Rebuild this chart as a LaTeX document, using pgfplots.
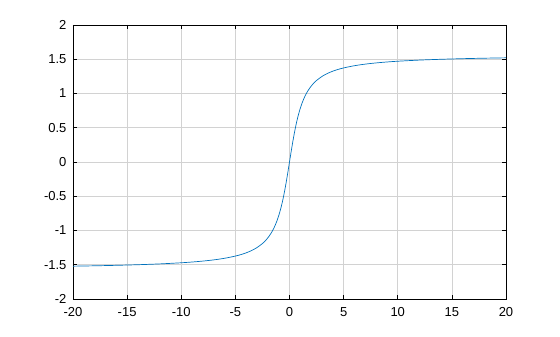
\documentclass[border=0pt]{standalone}
\usepackage{pgfplots}
\pgfplotsset{compat=1.18}
\usepackage{fontspec}
\setmainfont{Liberation Sans}
\definecolor{octblue}{rgb}{0,0.447,0.741}
\pgfplotstableread{
x y
-20 -1.5208
-18 -1.5153
-16 -1.5084
-14 -1.4995
-12 -1.4877
-10 -1.4711
-9 -1.4601
-8 -1.4464
-7 -1.4289
-6 -1.4056
-5 -1.3734
-4.5 -1.3521
-4 -1.3258
-3.5 -1.2925
-3 -1.2490
-2.5 -1.1903
-2.2 -1.1442
-2 -1.1071
-1.8 -1.0637
-1.6 -1.0122
-1.5 -0.9828
-1.4 -0.9505
-1.3 -0.9151
-1.2 -0.8761
-1.1 -0.8330
-1 -0.7854
-0.9 -0.7328
-0.8 -0.6747
-0.7 -0.6107
-0.6 -0.5404
-0.5 -0.4636
-0.4 -0.3805
-0.3 -0.2915
-0.2 -0.1974
-0.1 -0.0997
0 0
0.1 0.0997
0.2 0.1974
0.3 0.2915
0.4 0.3805
0.5 0.4636
0.6 0.5404
0.7 0.6107
0.8 0.6747
0.9 0.7328
1 0.7854
1.1 0.8330
1.2 0.8761
1.3 0.9151
1.4 0.9505
1.5 0.9828
1.6 1.0122
1.8 1.0637
2 1.1071
2.2 1.1442
2.5 1.1903
3 1.2490
3.5 1.2925
4 1.3258
4.5 1.3521
5 1.3734
6 1.4056
7 1.4289
8 1.4464
9 1.4601
10 1.4711
12 1.4877
14 1.4995
16 1.5084
18 1.5153
20 1.5208
}\datatable
\begin{document}
\begin{tikzpicture}
\path (-73pt,-38pt) rectangle (487pt,299pt);
\begin{axis}[
  at={(0pt,0pt)}, anchor=south west,
  scale only axis, width=433pt, height=274pt,
  xmin=-20, xmax=20, ymin=-2, ymax=2,
  xtick={-20,-15,...,20}, ytick={-2,-1.5,...,2},
  grid=major, major grid style={gray!35, line width=0.5pt},
  tick align=inside, major tick length=4pt,
  axis line style={line width=0.6pt},
  tick style={black, line width=0.5pt},
  every tick label/.append style={font=\fontsize{13}{15}\selectfont},
  /pgf/number format/assume math mode=true,
  yticklabel style={/pgf/number format/fixed, xshift=-3pt},
  xticklabel style={/pgf/number format/fixed, yshift=-5pt},
]
\addplot[octblue, line width=0.7pt, smooth] table {\datatable};
\end{axis}
\end{tikzpicture}
\end{document}
